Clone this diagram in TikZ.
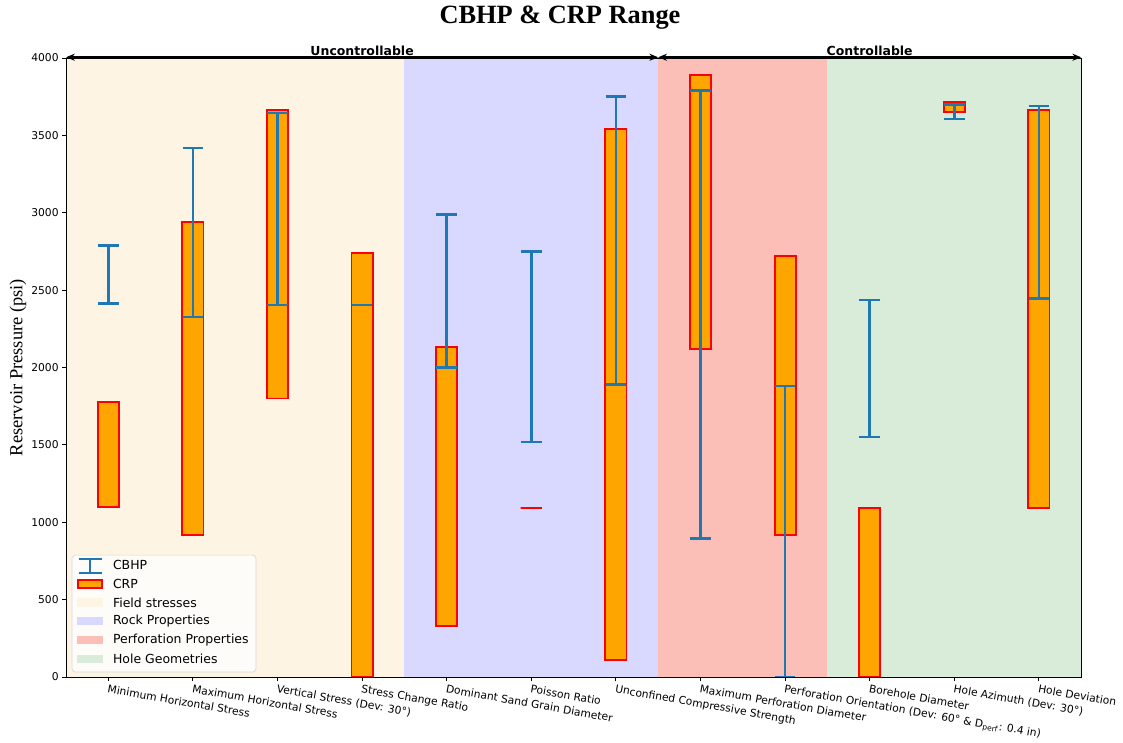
\documentclass[tikz,border=0pt]{standalone}
\usepackage{fontspec}
\setmainfont{DejaVu Sans}
\newfontfamily\serifrm{Liberation Serif}
\usetikzlibrary{arrows.meta}

\definecolor{cbhpblue}{HTML}{1F77B4}
\definecolor{crporange}{HTML}{FFA500}
\definecolor{fieldbg}{HTML}{FDF4E3}
\definecolor{rockbg}{HTML}{D9D9FF}
\definecolor{perfbg}{HTML}{FCBFB8}
\definecolor{holebg}{HTML}{D9ECD9}

\tikzset{
  crpbar/.style={fill=crporange, draw=red, line width=1.1pt},
  cbhp/.style={draw=cbhpblue, line width=1.4pt},
  ytick/.style={anchor=east, inner sep=0pt, font=\fontsize{6.1}{7}\selectfont},
  xlab/.style={anchor=north west, inner sep=0pt, rotate=-10, font=\fontsize{6.1}{7}\selectfont},
  legtext/.style={anchor=west, inner sep=0pt, font=\fontsize{7.1}{8}\selectfont},
  spanlab/.style={anchor=base, inner sep=0pt, font=\bfseries\fontsize{7.1}{8}\selectfont},
  span/.style={{Stealth[length=5pt,width=4pt]}-{Stealth[length=5pt,width=4pt]}, line width=0.9pt}
}

\begin{document}
\begin{tikzpicture}[x=1.692cm, y=3.095cm]
  \useasboundingbox (-1.28,-0.42) rectangle (11.994,4.375);

  % groups
  \fill[fieldbg] (-0.5,0) rectangle (3.5,4);
  \fill[rockbg] (3.5,0) rectangle (6.5,4);
  \fill[perfbg] (6.5,0) rectangle (8.5,4);
  \fill[holebg] (8.5,0) rectangle (11.5,4);

  \begin{scope}
    \clip (-0.5,0) rectangle (11.5,4);
    % CRP
    \foreach \i/\lo/\hi in {0/1.10/1.78, 1/0.92/2.94, 2/1.80/3.665, 3/0/2.74,
        4/0.33/2.13, 5/1.095/1.095, 6/0.11/3.54, 7/2.12/3.89,
        8/0.915/2.72, 9/0/1.095, 10/3.65/3.715, 11/1.095/3.665}
      \draw[crpbar] (\i-0.125,\lo) rectangle (\i+0.125,\hi);
    % CBHP
    \foreach \i/\lo/\hi in {0/2.415/2.79, 1/2.325/3.42, 2/2.405/3.645, 3/2.405/2.405,
        4/2.0/2.99, 5/1.52/2.75, 6/1.89/3.75, 7/0.895/3.79,
        8/0/1.882, 9/1.552/2.437, 10/3.607/3.70, 11/2.445/3.69} {
      \draw[cbhp] (\i,\lo) -- (\i,\hi);
      \draw[cbhp] (\i-0.122,\lo) -- (\i+0.122,\lo) (\i-0.122,\hi) -- (\i+0.122,\hi);
    }
  \end{scope}

  % axes
  \draw[line width=0.5pt] (-0.5,0) rectangle (11.5,4);
  \foreach \v [evaluate=\v as \y using \v/1000] in {0,500,...,4000} {
    \draw[line width=0.5pt] (-0.5,\y) -- ++(-0.07cm,0);
    \node[ytick] (yt\v) at ([xshift=-0.14cm]-0.5,\y) {\v};
  }
  \foreach \lab [count=\i from 0] in {Minimum Horizontal Stress,
      Maximum Horizontal Stress, Vertical Stress (Dev: 30°),
      Stress Change Ratio, Dominant Sand Grain Diameter, Poisson Ratio,
      Unconfined Compressive Strength, Maximum Perforation Diameter,
      Perforation Orientation (Dev: 60° \& D\textsubscript{perf}: 0.4 in),
      Borehole Diameter, Hole Azimuth (Dev: 30°), Hole Deviation} {
    \draw[line width=0.5pt] (\i,0) -- ++(0,-0.07cm);
    \node[xlab] (xl\i) at ([yshift=-0.14cm]\i,0) {\lab};
  }

  \node[rotate=90, font=\serifrm\fontsize{10.5}{12}\selectfont] (ylab) at (-1.067,2.0) {Reservoir Pressure (psi)};
  \node[font=\serifrm\bfseries\fontsize{15}{18}\selectfont] (title) at (5.339,4.258) {CBHP \& CRP Range};

  % uncontrollable / controllable
  \coordinate (ul) at (-0.5,4.005);
  \coordinate (um) at (6.5,4.005);
  \coordinate (ur) at (11.5,4.005);
  \draw[span] (ul) -- (um);
  \draw[span] (um) -- (ur);
  \node[spanlab] (unctl) at (3,4.019) {Uncontrollable};
  \node[spanlab] (ctl) at (9,4.019) {Controllable};

  % legend
  \draw[black!15, fill=white, fill opacity=0.8, rounded corners=2pt] (-0.429,0.032) rectangle (1.746,0.788);
  \draw[cbhp] (-0.216,0.672) -- (-0.216,0.762);
  \draw[cbhp] (-0.352,0.672) -- (-0.08,0.672) (-0.352,0.762) -- (-0.08,0.762);
  \node[legtext] (leg0) at (0.052,0.724) {CBHP};
  \draw[crpbar] (-0.362,0.578) rectangle (-0.07,0.628);
  \node[legtext] (leg1) at (0.052,0.603) {CRP};
  \foreach \c/\t [count=\k from 2] in {fieldbg/Field stresses, rockbg/Rock Properties,
      perfbg/Perforation Properties, holebg/Hole Geometries} {
    \fill[\c] (-0.37,{0.724-0.1212*\k-0.027}) rectangle (-0.063,{0.724-0.1212*\k+0.027});
    \node[legtext] (leg\k) at (0.052,{0.724-0.1212*\k}) {\t};
  }
\end{tikzpicture}
\end{document}
